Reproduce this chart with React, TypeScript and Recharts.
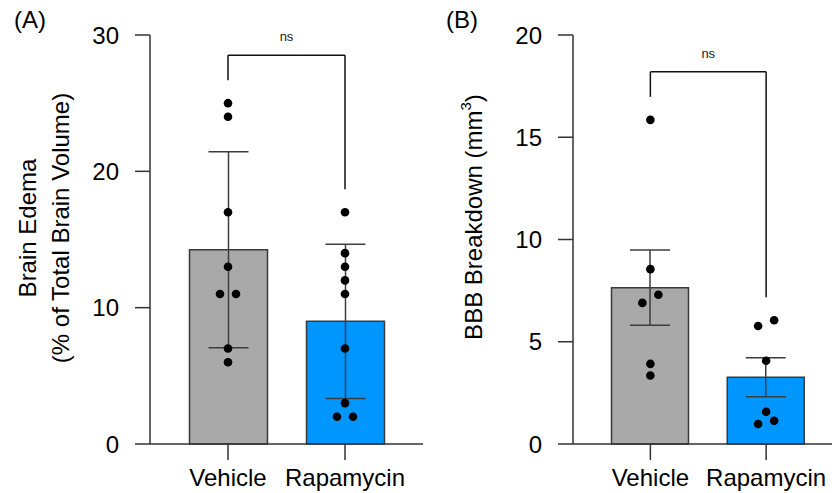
import { ComposedChart, Bar, Cell, ErrorBar, Scatter, XAxis, YAxis, ReferenceLine } from 'recharts'

const groups = ['Vehicle', 'Rapamycin']
const barColors = ['#a9a9a9', '#0096ff']

// panel A: brain edema (% of total brain volume), bars = mean, error = SD
const edemaVehicle = [25, 24, 17, 13, 11, 11, 7, 6]
const edemaRapamycin = [17, 14, 13, 12, 11, 7, 3, 2, 2]
const edemaTicks = [0, 10, 20, 30]

// panel B: BBB breakdown (mm3), bars = mean, error = SEM
const bbbVehicle = [15.85, 8.55, 7.3, 6.9, 3.92, 3.35]
const bbbRapamycin = [6.05, 5.77, 4.07, 1.58, 1.14, 0.98]
const bbbTicks = [0, 5, 10, 15, 20]

const FONT = '"Liberation Sans", Arial, sans-serif'
const AXIS = '#333'

const mean = (v: number[]) => v.reduce((a, b) => a + b, 0) / v.length
const sd = (v: number[]) => {
  const m = mean(v)
  return Math.sqrt(v.reduce((a, b) => a + (b - m) ** 2, 0) / (v.length - 1))
}
const sem = (v: number[]) => sd(v) / Math.sqrt(v.length)

// pair up points that would overlap so they sit side by side
function spread(values: number[], tol: number) {
  const order = values.map((_, i) => i).sort((a, b) => values[a] - values[b])
  const dx = values.map(() => 0)
  for (let k = 0; k < order.length; k++) {
    const i = order[k]
    const j = order[k + 1]
    if (j !== undefined && values[j] - values[i] < tol) {
      dx[i] = -1
      dx[j] = 1
      k++
    }
  }
  return dx
}

function buildPoints(sets: number[][], tol: number) {
  return sets.flatMap((vals, g) => {
    const dx = spread(vals, tol)
    return vals.map((value, i) => ({ group: groups[g], value, dx: dx[i] }))
  })
}

const Dot = (props: any) => (
  <circle cx={props.cx + props.payload.dx * 8} cy={props.cy} r={4.3} fill="#000" />
)

interface PanelProps {
  sets: number[][]
  errFn: (v: number[]) => number
  ticks: number[]
  width: number
  axisWidth: number
  padRight: number
  barSize: number
  title: React.ReactNode
}

function Panel({ sets, errFn, ticks, width, axisWidth, padRight, barSize, title }: PanelProps) {
  const top = 35
  const plotH = 409
  const yMax = ticks[ticks.length - 1]
  const unitPx = plotH / yMax
  const rows = sets.map((v, i) => ({ group: groups[i], mean: mean(v), err: errFn(v) }))
  const points = buildPoints(sets, 10 / unitPx)
  const legL = Math.max(...sets[0]) + 23 / unitPx
  const legR = Math.max(...sets[1]) + 23 / unitPx
  const bracketY = Math.max(legL, legR) + 25 / unitPx

  return (
    <ComposedChart
      width={width}
      height={493}
      data={rows}
      margin={{ top, right: 0, bottom: 0, left: 0 }}
      style={{ fontFamily: FONT }}
    >
      <XAxis
        dataKey="group"
        allowDuplicatedCategory={false}
        height={49}
        padding={{ left: 19.5, right: padRight }}
        axisLine={{ stroke: AXIS, strokeWidth: 1.5 }}
        tickLine={{ stroke: AXIS, strokeWidth: 1.5 }}
        tickSize={16}
        tickMargin={9}
        tick={{ fill: '#000', fontSize: 24 }}
      />
      <YAxis
        type="number"
        domain={[0, yMax]}
        ticks={ticks}
        width={axisWidth}
        axisLine={{ stroke: AXIS, strokeWidth: 1.5 }}
        tickLine={{ stroke: AXIS, strokeWidth: 1.5 }}
        tickSize={15}
        tickMargin={16}
        tick={{ fill: '#000', fontSize: 24 }}
        label={{ content: () => title }}
      />
      <Bar dataKey="mean" barSize={barSize} stroke="#3a3a3a" strokeWidth={1.5} isAnimationActive={false}>
        {rows.map((r, i) => (
          <Cell key={r.group} fill={barColors[i]} />
        ))}
        <ErrorBar dataKey="err" width={20} stroke="#3d3d3d" strokeWidth={1.5} direction="y" />
      </Bar>
      <Scatter data={points} dataKey="value" shape={Dot} isAnimationActive={false} />
      <ReferenceLine segment={[{ x: groups[0], y: legL }, { x: groups[0], y: bracketY }]} stroke="#111" strokeWidth={1.5} />
      <ReferenceLine
        segment={[{ x: groups[0], y: bracketY }, { x: groups[1], y: bracketY }]}
        stroke="#111"
        strokeWidth={1.5}
        label={{ value: 'ns', position: 'top', offset: 14, fontSize: 13, fill: '#222' }}
      />
      <ReferenceLine segment={[{ x: groups[1], y: legR }, { x: groups[1], y: bracketY }]} stroke="#111" strokeWidth={1.5} />
    </ComposedChart>
  )
}

const titleA = (
  <g fontSize={24} fill="#000" fontFamily={FONT}>
    <text x={27} y={228} transform="rotate(-90 27 228)" textAnchor="middle" dominantBaseline="central">
      Brain Edema
    </text>
    <text x={60} y={228} transform="rotate(-90 60 228)" textAnchor="middle" dominantBaseline="central">
      (% of Total Brain Volume)
    </text>
  </g>
)

const titleB = (
  <g fontSize={24} fill="#000" fontFamily={FONT}>
    <text x={43} y={217} transform="rotate(-90 43 217)" textAnchor="middle" dominantBaseline="central">
      BBB Breakdown (mm<tspan dy={-8} fontSize={15}>3</tspan><tspan dy={8}>)</tspan>
    </text>
  </g>
)

const panelLabel: React.CSSProperties = {
  position: 'absolute',
  top: 6,
  fontSize: 24,
  fontFamily: FONT,
  color: '#000',
  lineHeight: '28px',
}

export default function App() {
  return (
    <div style={{ position: 'absolute', left: 0, top: 0, width: 832, height: 493, background: '#fff' }}>
      <div style={{ position: 'absolute', left: 0, top: 0 }}>
        <Panel
          sets={[edemaVehicle, edemaRapamycin]}
          errFn={sd}
          ticks={edemaTicks}
          width={423}
          axisWidth={150}
          padRight={19.5}
          barSize={78}
          title={titleA}
        />
      </div>
      <div style={{ position: 'absolute', left: 430, top: 0 }}>
        <Panel
          sets={[bbbVehicle, bbbRapamycin]}
          errFn={sem}
          ticks={bbbTicks}
          width={402}
          axisWidth={143}
          padRight={8}
          barSize={77}
          title={titleB}
        />
      </div>
      <div style={{ ...panelLabel, left: 14 }}>(A)</div>
      <div style={{ ...panelLabel, left: 446 }}>(B)</div>
    </div>
  )
}
